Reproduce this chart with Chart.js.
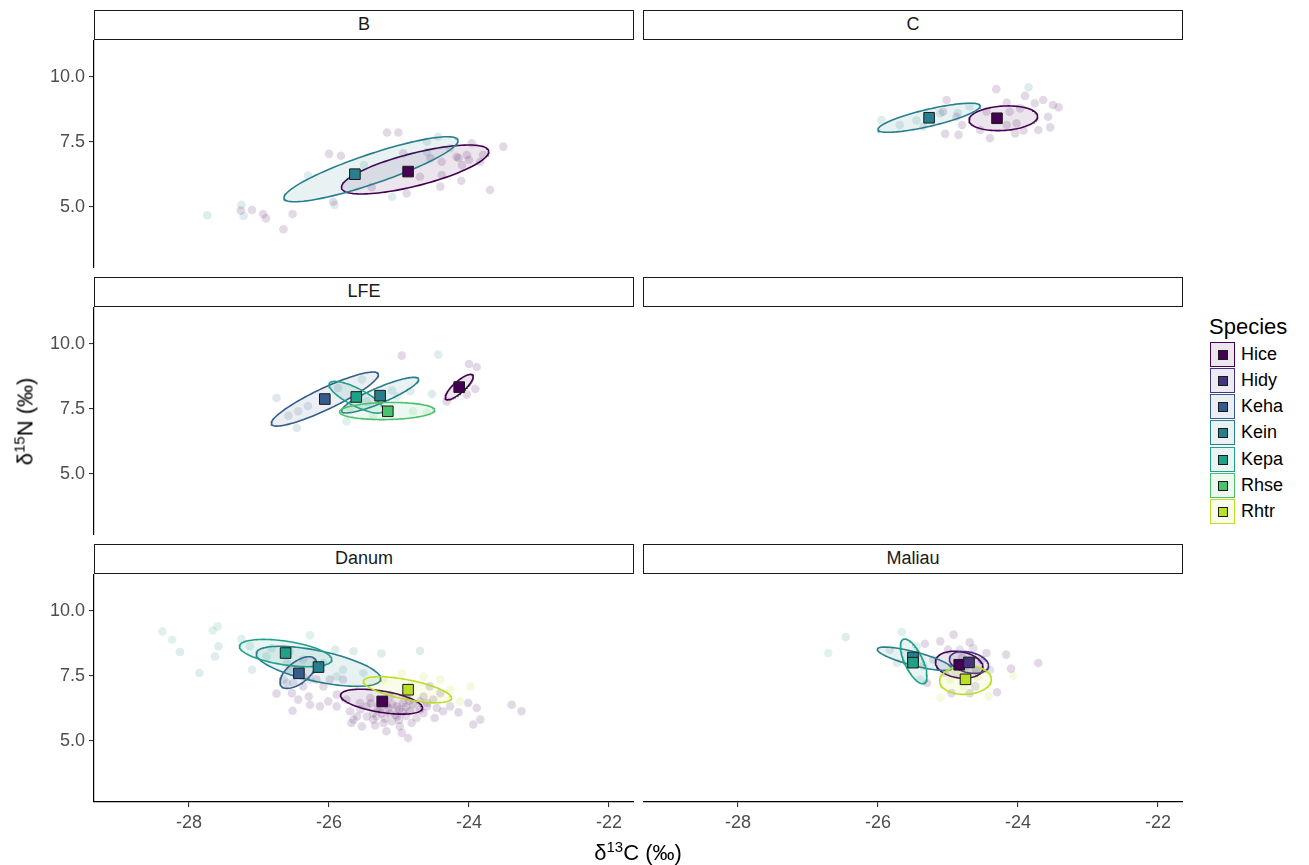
<!DOCTYPE html>
<html><head><meta charset="utf-8">
<script src="https://cdn.jsdelivr.net/npm/chart.js@4.4.1/dist/chart.umd.min.js"></script>
<style>
body{margin:0;background:#fff;}
#root{position:relative;width:1309px;height:865px;overflow:hidden;font-family:'Liberation Sans',Arial,sans-serif;background:#fff;}
.strip{position:absolute;box-sizing:border-box;border:1.5px solid #1a1a1a;background:#fff;color:#1a1a1a;font-size:18px;text-align:center;line-height:27px;}
canvas{position:absolute;}
.lab{position:absolute;white-space:nowrap;}
</style></head><body><div id="root"></div>
<script>
// ---------------- DATA ----------------
const speciesNames = ['Hice','Hidy','Keha','Kein','Kepa','Rhse','Rhtr'];
const speciesColors = ['#440154','#46337E','#365C8D','#277F8E','#1FA187','#4AC16D','#BBDF27'];
const panelNames = ['B','C','LFE','','Danum','Maliau'];
const xTicks = [-28,-26,-24,-22];
const xTickLabels = ['-28','-26','-24','-22'];
const yTicks = [5,7.5,10];
const yTickLabels = ['5.0','7.5','10.0'];
const xRange = [-29.357,-21.643];
const yRange = [2.642,11.41];

// raw observations [d13C, d15N]
const B_Hice = [[-27.26,4.85],[-27.10,4.87],[-26.94,4.72],[-26.90,4.55],[-26.65,4.13],[-26.52,4.72],[-26.00,7.03],[-25.83,6.96],[-25.94,5.19],[-25.17,7.85],[-25.01,7.85],[-24.18,6.92],[-24.03,6.99],[-23.96,7.44],[-23.84,6.73],[-23.51,7.31],[-23.70,5.64],[-24.11,6.00],[-24.41,5.77],[-24.39,6.22],[-24.89,5.51],[-25.39,5.75],[-24.55,6.86],[-24.39,6.73],[-24.94,7.05],[-24.70,6.15],[-24.10,6.60],[-23.80,7.00],[-24.00,6.80],[-24.15,6.87]];
const B_Kein = [[-27.74,4.67],[-27.25,5.07],[-27.22,4.64],[-25.92,5.07],[-24.60,7.50],[-24.44,7.69],[-25.10,5.38],[-24.27,7.25],[-26.30,6.20],[-25.50,6.60],[-24.60,7.10]];
const C_Hice = [[-24.31,9.52],[-24.16,9.00],[-23.90,9.26],[-23.76,8.98],[-23.64,9.10],[-23.50,8.91],[-23.42,8.82],[-23.57,8.46],[-23.54,8.05],[-23.71,7.95],[-23.92,7.93],[-24.04,7.82],[-24.40,7.63],[-24.54,7.95],[-24.85,7.76],[-25.04,7.80],[-24.80,8.14],[-24.88,8.46],[-24.02,8.21],[-24.16,8.14],[-24.45,8.65],[-24.12,8.65],[-23.97,8.78],[-25.02,9.10],[-25.07,8.65]];
const C_Kein = [[-23.85,9.59],[-25.95,8.33],[-25.69,8.14],[-25.35,8.08],[-25.11,8.59],[-24.69,8.85],[-25.45,8.32],[-24.86,8.60]];
const LFE_Hice = [[-24.96,9.54],[-24.00,9.22],[-23.89,9.10],[-23.91,8.26],[-24.03,8.04],[-24.32,7.78]];
const LFE_Keha = [[-25.87,8.30],[-26.44,7.40],[-26.58,7.23],[-26.75,7.91],[-26.46,6.76],[-26.08,7.85],[-26.30,7.60]];
const LFE_Kein = [[-24.44,9.58],[-24.53,8.07],[-24.84,8.17],[-25.46,7.78],[-25.10,8.20]];
const LFE_Kepa = [[-25.03,7.97],[-25.53,8.62],[-25.75,7.01]];
const LFE_Rhse = [[-24.80,7.40],[-25.37,7.20],[-24.60,7.35],[-25.70,7.50]];
const Danum_Hice = [[-26.75,6.81],[-26.53,6.83],[-26.52,6.15],[-26.44,6.58],[-26.29,6.70],[-26.27,6.38],[-26.13,6.32],[-26.01,6.51],[-26.08,7.09],[-25.89,6.77],[-25.70,6.13],[-25.65,5.81],[-25.60,5.93],[-25.46,6.32],[-25.37,6.06],[-25.34,5.59],[-25.22,5.68],[-25.10,5.74],[-25.03,6.32],[-24.96,5.30],[-24.87,5.10],[-24.82,5.68],[-24.65,6.06],[-24.60,6.32],[-24.51,6.58],[-24.49,5.87],[-24.37,6.13],[-24.15,6.09],[-24.01,6.45],[-23.89,6.26],[-23.94,5.62],[-23.84,5.81],[-23.39,6.38],[-23.25,6.13],[-25.13,6.70],[-25.41,6.64],[-25.56,6.45],[-24.84,6.13],[-24.75,5.87],[-25.03,5.93],[-25.27,6.19],[-25.18,6.38],[-24.94,6.45],[-24.56,7.09],[-24.41,6.83],[-24.65,6.70],[-25.80,7.35],[-25.99,7.35],[-26.37,7.09],[-26.18,7.35],[-25.89,6.32],[-25.75,6.58],[-24.99,5.55],[-25.32,5.93],[-25.53,5.55],[-25.68,5.68],[-24.89,6.70],[-24.70,6.51],[-25.18,5.36],[-25.37,5.81],[-25.13,6.06],[-25.46,5.93],[-24.27,6.32],[-24.46,6.26],[-25.00,6.20],[-25.10,6.40],[-24.90,6.30],[-25.20,6.55],[-24.80,6.40],[-25.30,6.30],[-25.05,6.00],[-24.95,6.10],[-25.15,6.25],[-24.85,6.55],[-25.25,6.05],[-24.70,6.20],[-25.40,6.45],[-25.00,5.80],[-24.60,6.45],[-25.55,6.20],[-24.90,5.95],[-25.20,5.85]];
const Danum_Keha = [[-26.65,7.35],[-26.51,7.22],[-26.37,7.47],[-26.56,7.73],[-26.27,7.35],[-26.60,7.99],[-26.60,7.22]];
const Danum_Kein = [[-28.13,8.41],[-27.58,8.63],[-27.63,8.24],[-27.85,7.60],[-27.10,7.73],[-26.37,8.12],[-26.08,7.99],[-25.91,8.50],[-25.65,8.44],[-25.80,7.73],[-25.51,7.60],[-25.25,8.35],[-25.89,7.47],[-24.70,8.46]];
const Danum_Kepa = [[-28.38,9.20],[-28.24,8.88],[-27.66,9.24],[-27.59,9.40],[-27.25,8.91],[-26.82,8.56],[-27.13,8.63],[-26.56,8.44],[-26.27,9.05],[-26.89,8.24]];
const Danum_Rhtr = [[-24.96,7.58],[-23.98,7.09],[-24.13,6.51],[-24.41,7.35],[-24.65,7.47],[-24.27,6.96],[-25.22,7.35],[-24.84,7.09]];
const Maliau_Hice = [[-25.33,8.73],[-25.11,8.82],[-24.92,9.08],[-24.69,8.78],[-24.45,8.37],[-24.17,8.31],[-24.10,7.77],[-23.71,7.99],[-24.30,6.86],[-25.30,7.22],[-24.95,6.83],[-24.69,6.83],[-25.00,8.50],[-24.80,8.20],[-24.60,7.70],[-25.05,7.60]];
const Maliau_Hidy = [[-24.61,7.09],[-24.83,8.50],[-24.64,8.56],[-24.52,8.12],[-25.21,8.12],[-24.40,7.73],[-24.75,7.85]];
const Maliau_Kein = [[-26.46,8.99],[-25.73,7.99],[-25.35,7.86],[-25.83,8.50]];
const Maliau_Kepa = [[-26.71,8.37],[-25.66,9.18],[-25.45,8.63],[-25.40,7.35]];
const Maliau_Rhtr = [[-24.07,7.50],[-25.11,6.64],[-24.42,6.71],[-24.88,7.60],[-24.59,7.47],[-24.78,7.09],[-24.97,7.35]];

// group means [species, d13C, d15N]
const B_means = [['Hice',-24.87,6.35],['Kein',-25.63,6.25]];
const C_means = [['Hice',-24.30,8.40],['Kein',-25.27,8.42]];
const LFE_means = [['Hice',-24.14,8.33],['Keha',-26.06,7.87],['Kein',-25.27,8.00],['Kepa',-25.61,7.95],['Rhse',-25.16,7.40]];
const Danum_means = [['Hice',-25.24,6.51],['Keha',-26.43,7.59],['Kein',-26.15,7.83],['Kepa',-26.62,8.37],['Rhtr',-24.87,6.96]];
const Maliau_means = [['Hice',-24.84,7.92],['Hidy',-24.70,8.01],['Kein',-25.50,8.20],['Kepa',-25.50,8.00],['Rhtr',-24.75,7.36]];

// standard ellipses [species, centre C, centre N, half-range C, half-range N, correlation]
const B_ell = [['Hice',-24.77,6.43,1.052,0.942,0.727],['Kein',-25.40,6.44,1.243,1.25,0.877]];
const C_ell = [['Hice',-24.21,8.40,0.49,0.475,0.15],['Kein',-25.27,8.42,0.73,0.56,0.80]];
const LFE_ell = [['Hice',-24.14,8.33,0.20,0.49,0.82],['Keha',-26.06,7.87,0.765,1.04,0.90],['Kein',-25.27,8.02,0.55,0.685,0.88],['Kepa',-25.61,7.94,0.39,0.61,-0.79],['Rhse',-25.17,7.41,0.68,0.33,0.10]];
const Danum_ell = [['Hice',-25.25,6.50,0.585,0.48,-0.5],['Keha',-26.44,7.62,0.26,0.61,0.6],['Kein',-26.15,7.86,0.89,0.77,-0.62],['Kepa',-26.62,8.37,0.66,0.525,-0.48],['Rhtr',-24.88,6.96,0.63,0.50,-0.64]];
const Maliau_ell = [['Hice',-24.84,7.92,0.34,0.52,-0.2],['Hidy',-24.70,8.01,0.28,0.42,-0.3],['Kein',-25.48,8.15,0.53,0.45,-0.8],['Kepa',-25.49,8.05,0.19,0.86,-0.67],['Rhtr',-24.75,7.33,0.37,0.55,0.05]];

// tables built from the arrays above
const panelPoints = [
  [['Hice',B_Hice],['Kein',B_Kein]],
  [['Hice',C_Hice],['Kein',C_Kein]],
  [['Hice',LFE_Hice],['Keha',LFE_Keha],['Kein',LFE_Kein],['Kepa',LFE_Kepa],['Rhse',LFE_Rhse]],
  [],
  [['Hice',Danum_Hice],['Keha',Danum_Keha],['Kein',Danum_Kein],['Kepa',Danum_Kepa],['Rhtr',Danum_Rhtr]],
  [['Hice',Maliau_Hice],['Hidy',Maliau_Hidy],['Kein',Maliau_Kein],['Kepa',Maliau_Kepa],['Rhtr',Maliau_Rhtr]]
];
const panelMeans = [B_means,C_means,LFE_means,[],Danum_means,Maliau_means];
const panelEll = [B_ell,C_ell,LFE_ell,[],Danum_ell,Maliau_ell];

// ---------------- LAYOUT / STYLE ----------------
const FONT = "'Liberation Sans', Arial, sans-serif";
const colLeft = [94,643];
const rowTop = [40,307,574];
const PW = 540, PH = 228, YAX_W = 60, XAX_H = 40, STRIP_H = 30;
const root = document.getElementById('root');

function rgba(hex,a){const n=parseInt(hex.slice(1),16);return `rgba(${(n>>16)&255},${(n>>8)&255},${n&255},${a})`;}
function colorOf(sp){return speciesColors[speciesNames.indexOf(sp)];}
function ellipsePoly(cx,cy,sx,sy,rho){
  const N=120,k=Math.sqrt(1-rho*rho),out=[];
  for(let i=0;i<=N;i++){const t=2*Math.PI*i/N;out.push({x:cx+sx*Math.cos(t),y:cy+sy*(rho*Math.cos(t)+k*Math.sin(t))});}
  return out;
}
function addDiv(cls,style,html){const d=document.createElement('div');d.className=cls;Object.assign(d.style,style);d.innerHTML=html;root.appendChild(d);return d;}

const tickFont = {family:FONT,size:18};
function axisCfg(range,ticks,labels,show,isX){
  return {
    type:'linear',min:range[0],max:range[1],display:show,
    afterFit:(s)=>{
      if(isX) s.height = show?XAX_H:0; else s.width = show?YAX_W:0;
      s.paddingTop=0;s.paddingBottom=0;s.paddingLeft=0;s.paddingRight=0;
    },
    afterBuildTicks:(s)=>{ s.ticks = ticks.map(v=>({value:v})); },
    ticks:{callback:(v,i)=>labels[i],color:'#4d4d4d',font:tickFont,padding:isX?5:4,autoSkip:false,maxRotation:0,minRotation:0},
    grid:{display:true,drawOnChartArea:false,drawTicks:true,tickLength:5,color:'#333333',lineWidth:1.1},
    border:{display:true,color:'#000000',width:1.2}
  };
}

panelNames.forEach((name,p)=>{
  const row=Math.floor(p/2), col=p%2;
  addDiv('strip',{left:colLeft[col]+'px',top:(rowTop[row]-STRIP_H)+'px',width:PW+'px',height:STRIP_H+'px'},name);
  if(p===3) return;
  const showY = col===0, showX = row===2;
  const cv=document.createElement('canvas');
  const w=PW+(showY?YAX_W:0), h=PH+(showX?XAX_H:0);
  cv.width=w;cv.height=h;
  Object.assign(cv.style,{left:(colLeft[col]-(showY?YAX_W:0))+'px',top:rowTop[row]+'px',width:w+'px',height:h+'px'});
  root.appendChild(cv);
  const datasets=[];
  panelPoints[p].forEach(([sp,pts])=>{
    datasets.push({type:'scatter',data:pts.map(q=>({x:q[0],y:q[1]})),backgroundColor:rgba(colorOf(sp),0.15),borderWidth:0,pointRadius:4.3,order:40});
  });
  panelEll[p].forEach(([sp,cx,cy,sx,sy,rho])=>{
    const si=speciesNames.indexOf(sp);
    datasets.push({type:'line',data:ellipsePoly(cx,cy,sx,sy,rho),borderColor:colorOf(sp),borderWidth:1.6,backgroundColor:rgba(colorOf(sp),0.1),fill:'shape',pointRadius:0,tension:0,order:20+(8-si)});
  });
  panelMeans[p].forEach(([sp,x,y])=>{
    const si=speciesNames.indexOf(sp);
    datasets.push({type:'scatter',data:[{x,y}],pointStyle:'rect',pointRadius:7.5,backgroundColor:colorOf(sp),borderColor:'#1a1a1a',borderWidth:1,order:10+(8-si)});
  });
  new Chart(cv,{type:'scatter',data:{datasets},options:{
    responsive:false,animation:false,devicePixelRatio:1,
    layout:{padding:0,autoPadding:false},
    plugins:{legend:{display:false},tooltip:{enabled:false}},
    events:[],
    scales:{x:axisCfg(xRange,xTicks,xTickLabels,showX,true),y:axisCfg(yRange,yTicks,yTickLabels,showY,false)}
  }});
});

// axis titles
addDiv('lab',{left:'538px',width:'200px',textAlign:'center',top:'842px',fontSize:'22px',lineHeight:'21px',color:'#000'},'&delta;<span style="font-size:15px;position:relative;top:-8px">13</span>C (&permil;)');
addDiv('lab',{left:'-74px',width:'200px',textAlign:'center',top:'410px',fontSize:'22px',lineHeight:'21px',color:'#000',transform:'rotate(-90deg)'},'&delta;<span style="font-size:15px;position:relative;top:-8px">15</span>N (&permil;)');

// legend
addDiv('lab',{left:'1209px',top:'316px',fontSize:'22px',lineHeight:'22px',color:'#000'},'Species');
speciesNames.forEach((sp,i)=>{
  const top=341.5+i*26.3, c=speciesColors[i];
  const box=addDiv('lab',{left:'1210px',top:top+'px',width:'25px',height:'25px',boxSizing:'border-box',border:'1.5px solid '+c,background:rgba(c,0.1)},'');
  const sq=document.createElement('div');
  Object.assign(sq.style,{position:'absolute',left:'7px',top:'7px',width:'8px',height:'8px',background:c,border:'1px solid #1a1a1a'});
  box.appendChild(sq);
  addDiv('lab',{left:'1241px',top:top+'px',fontSize:'18px',lineHeight:'25px',color:'#000'},sp);
});
</script></body></html>
